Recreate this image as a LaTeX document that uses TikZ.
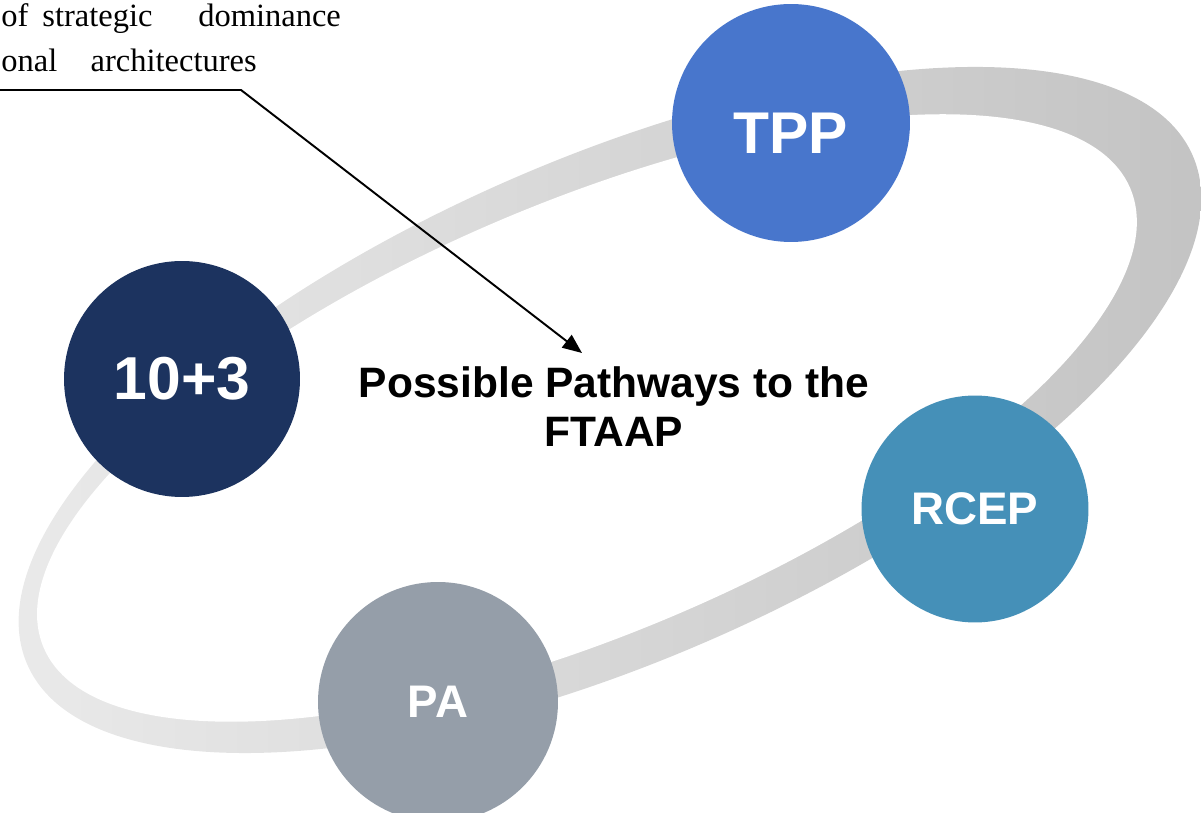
\documentclass[tikz,border=0pt]{standalone}
\usepackage{fontspec}
\setmainfont{Liberation Serif}
\newfontfamily\labelfont{Liberation Sans}
\usetikzlibrary{arrows.meta}
\definecolor{tppc}{HTML}{4876CC}
\definecolor{tenc}{HTML}{1C335F}
\definecolor{rcepc}{HTML}{4590B8}
\definecolor{pac}{HTML}{959EA9}
\definecolor{ringL}{HTML}{EBEBEB}
\definecolor{ringM}{HTML}{D8D8D8}
\definecolor{ringR}{HTML}{C2C2C2}
\tikzset{
  bubble/.style={circle, inner sep=0pt, text=white, font=\labelfont\bfseries},
  leader/.style={line width=1.1pt, draw=black},
}
\begin{document}
\begin{tikzpicture}[x=0.02cm, y=-0.02cm]
\useasboundingbox (0,0) rectangle (1201,813);
% ring
\coordinate (oc) at (610,410);
\coordinate (ic) at (587,418);
\shade[left color=ringL, middle color=ringM, right color=ringR, rotate around={23.6:(oc)}]
  (oc) ellipse [x radius=12.72cm, y radius=5.02cm];
\fill[white, rotate around={22.9:(ic)}]
  (ic) ellipse [x radius=11.8cm, y radius=4.32cm];
% bubbles
\node[bubble, fill=tppc, minimum size=4.76cm, font=\labelfont\bfseries\fontsize{33.5}{38}\selectfont] (tpp) at (791,123) {\raisebox{-5.7pt}[\height][0pt]{TPP}};
\node[bubble, fill=tenc, minimum size=4.72cm, font=\labelfont\bfseries\fontsize{34.5}{39}\selectfont] (ten) at (182,379) {10+3};
\node[bubble, fill=rcepc, minimum size=4.54cm, font=\labelfont\bfseries\fontsize{26}{30}\selectfont] (rcep) at (975,509) {RCEP};
\node[bubble, fill=pac, minimum size=4.8cm, font=\labelfont\bfseries\fontsize{26}{30}\selectfont] (pa) at (438,702) {PA};
% title
\node[align=center, anchor=base, inner sep=0pt, font=\labelfont\bfseries\fontsize{24.2}{28.3}\selectfont] (title) at (614,447) {Possible Pathways to the\\FTAAP};
% note text
\node[align=left, anchor=base west, inner sep=0pt, font=\fontsize{18.5}{25.9}\selectfont] (note) at (1,72) {of\hspace{8pt}strategic\hspace{26pt}dominance\\onal\hspace{19pt}architectures};
% leader
\coordinate (ls) at (-5,90);
\coordinate (lb) at (241,90);
\coordinate (tip) at (582,353);
\draw[leader, -{Triangle[length=11pt,width=9pt]}] (ls) -- (lb) -- (tip);
\end{tikzpicture}
\end{document}
